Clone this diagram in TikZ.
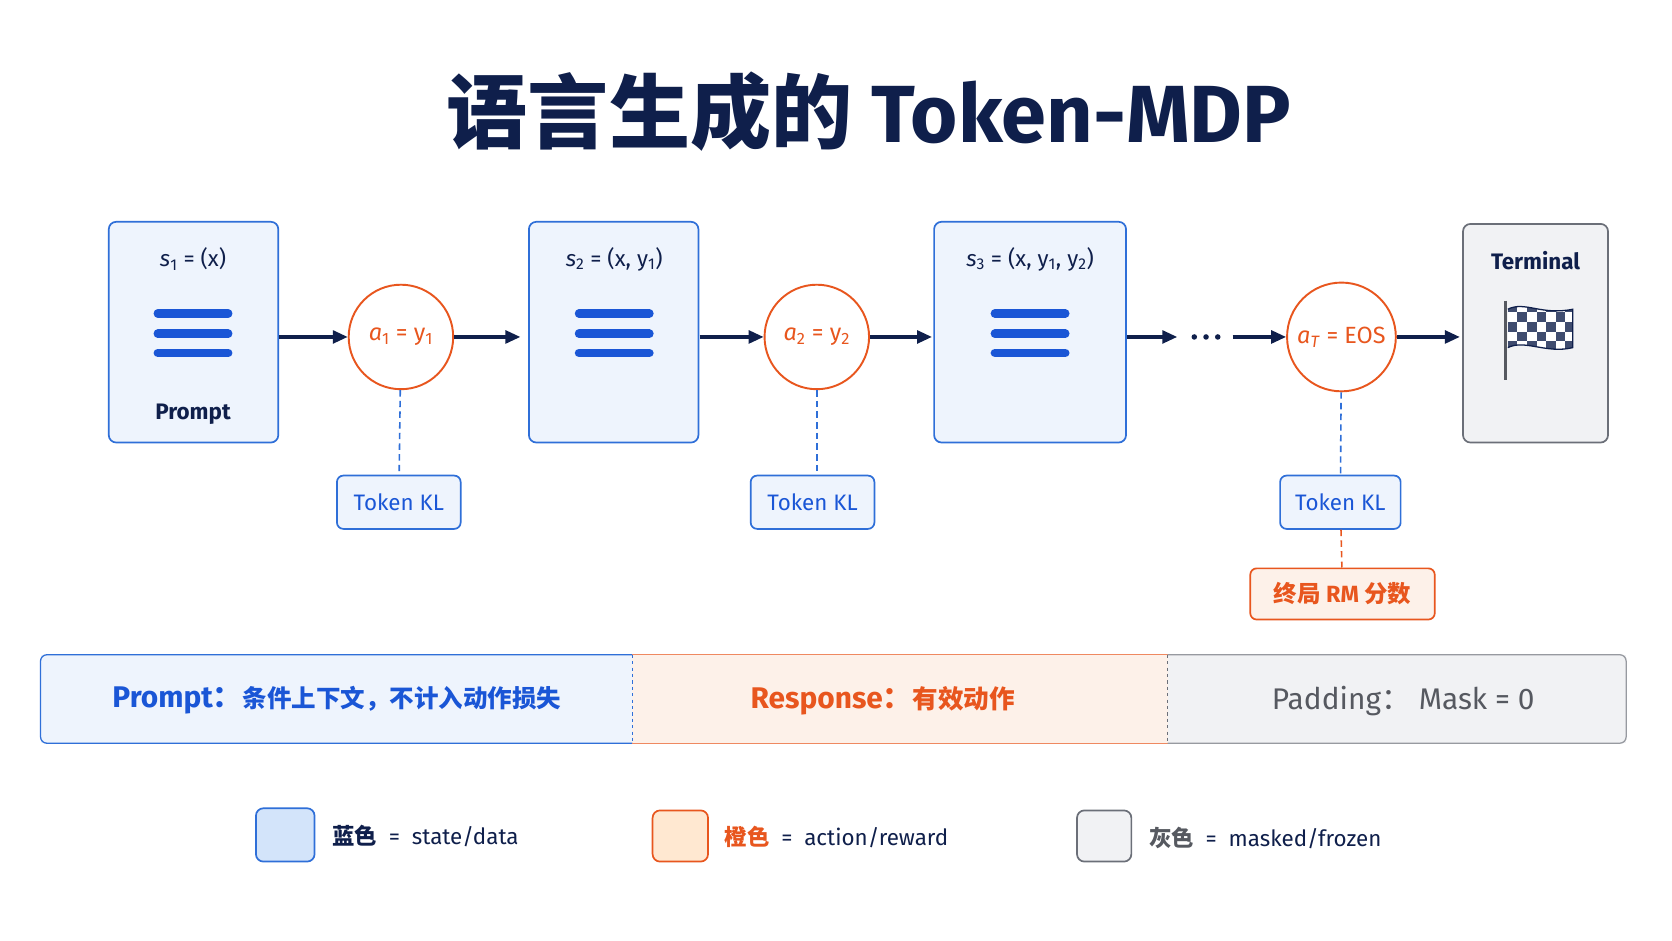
\documentclass[tikz,border=0pt]{standalone}
\usepackage{fontspec}
\setmainfont{Fira Sans}
\newfontfamily\cjk{Noto Sans CJK SC}
\usetikzlibrary{arrows.meta}
\definecolor{navy}{HTML}{0F1F4B}
\definecolor{bblue}{HTML}{2F6FD8}
\definecolor{bfill}{HTML}{EEF4FD}
\definecolor{lfill}{HTML}{D3E4FA}
\definecolor{iblue}{HTML}{1A56D6}
\definecolor{org}{HTML}{E8561E}
\definecolor{ofill}{HTML}{FDF1E9}
\definecolor{gr}{HTML}{6B6F78}
\definecolor{gfill}{HTML}{F1F2F4}
\tikzset{
 x=1pt,y=-1pt,
 st/.style={draw=bblue,line width=1.6pt,fill=bfill,rounded corners=7pt},
 act/.style={draw=org,line width=1.8pt,fill=white,circle,inner sep=0pt,text=org,font=\fontsize{22}{24}\selectfont},
 kl/.style={draw=bblue,line width=1.6pt,fill=bfill,rounded corners=6pt,minimum width=116pt,minimum height=50pt,text=iblue,font=\fontsize{21}{24}\selectfont},
 arr/.style={-{Triangle[length=14pt,width=12pt]},line width=3pt,draw=navy},
 dsh/.style={dash pattern=on 6pt off 4pt,line width=1.5pt},
 lbl/.style={font=\fontsize{21}{24}\selectfont,text=navy},
 bar/.style={line width=8pt,draw=iblue,line cap=round}
}
\newcommand{\ham}[2]{\draw[bar] (#1-33,#2-19)--(#1+33,#2-19); \draw[bar] (#1-33,#2)--(#1+33,#2); \draw[bar] (#1-33,#2+18)--(#1+33,#2+18);}
\begin{document}
\begin{tikzpicture}
\useasboundingbox (0,0) rectangle (1568,882);
\fill[white] (0,0) rectangle (1568,882);
\node[text=navy,font=\fontsize{76}{80}\selectfont\bfseries] (title) at (815,105) {{\cjk 语言生成的} Token-MDP};
% states
\draw[st] (102,208) rectangle (261,415);
\node[lbl] (s1t) at (181,243) {\textit{s}\textsubscript{1} = (x)};
\ham{181}{313}
\node[lbl,font=\fontsize{21}{24}\selectfont\bfseries] (p) at (181,388) {Prompt};
\draw[st] (496,208) rectangle (655,415);
\node[lbl] (s2t) at (576,243) {\textit{s}\textsubscript{2} = (x, y\textsubscript{1})};
\ham{576}{313}
\draw[st] (876,208) rectangle (1056,415);
\node[lbl] (s3t) at (966,243) {\textit{s}\textsubscript{3} = (x, y\textsubscript{1}, y\textsubscript{2})};
\ham{966}{313}
\draw[draw=gr,line width=1.6pt,fill=gfill,rounded corners=7pt] (1372,210) rectangle (1508,415);
\node[lbl,font=\fontsize{21}{24}\selectfont\bfseries] (term) at (1440,244) {Terminal};
% flag
\draw[line width=3pt,draw=gr!80!black] (1412,282)--(1412,356);
\begin{scope}
\clip (1414,290) .. controls (1430,282) and (1445,296) .. (1475,290) -- (1475,326) .. controls (1450,332) and (1430,318) .. (1414,326) -- cycle;
\fill[white] (1414,280) rectangle (1476,335);
\foreach \i in {0,...,6}{\foreach \j in {0,...,4}{
 \pgfmathtruncatemacro{\k}{mod(\i+\j,2)}
 \ifnum\k=0 \fill[navy!80] (1414+\i*9,284+\j*9) rectangle ++(9,9);\fi}}
\end{scope}
\draw[line width=1.2pt,draw=navy] (1414,290) .. controls (1430,282) and (1445,296) .. (1475,290) -- (1475,326) .. controls (1450,332) and (1430,318) .. (1414,326);
% actions
\node[act,minimum size=98pt] (a1) at (376,316) {\textit{a}\textsubscript{1} = y\textsubscript{1}};
\node[act,minimum size=98pt] (a2) at (766,316) {\textit{a}\textsubscript{2} = y\textsubscript{2}};
\node[act,minimum size=102pt] (aT) at (1258,316) {\textit{a}\textsubscript{\textit{T}} = EOS};
\coordinate (s1r) at (262,316); \coordinate (s2l) at (488,316); \coordinate (s2r) at (656,316);
\coordinate (s3l) at (874,316); \coordinate (s3r) at (1057,316); \coordinate (d1) at (1104,316);
\coordinate (d2) at (1156,316); \coordinate (tl) at (1369,316);
\draw[arr] (s1r)--(a1); \draw[arr] (a1)--(s2l); \draw[arr] (s2r)--(a2); \draw[arr] (a2)--(s3l);
\draw[arr] (s3r)--(d1); \draw[arr] (d2)--(aT); \draw[arr] (aT)--(tl);
\foreach \xx in {1120,1131,1142}{\fill[navy] (\xx,316) circle (2.6pt);}
\coordinate (dots) at (1131,316);
% KL
\node[kl] (k1) at (374,471) {Token KL};
\node[kl] (k2) at (762,471) {Token KL};
\node[kl,minimum width=113pt] (k3) at (1257,471) {Token KL};
\draw[dsh,bblue] (a1)--(k1); \draw[dsh,bblue] (a2.south)--(a2.south|-k2.north); \draw[dsh,bblue] (aT)--(k3);
\node[draw=org,line width=1.6pt,fill=ofill,rounded corners=6pt,minimum width=173pt,minimum height=48pt,text=org,font=\fontsize{22}{24}\selectfont\bfseries] (rm) at (1259,557) {{\cjk\bfseries 终局} RM {\cjk\bfseries 分数}};
\draw[dsh,org] (k3)--(rm);
% bar
\fill[bfill] (38,614) rectangle (593,697);
\fill[ofill] (593,614) rectangle (1095,697);
\fill[gfill] (1095,614) rectangle (1525,697);
\draw[bblue,line width=1.2pt] (593,614)--(44,614) arc(-90:-180:6)--(38,691) arc(180:90:6)--(593,697);
\draw[org!70,line width=1.2pt] (593,614)--(1095,614) (593,697)--(1095,697);
\draw[gr!70,line width=1.2pt] (1095,614)--(1519,614) arc(-90:0:6)--(1525,691) arc(0:90:6)--(1095,697);
\draw[dashed,bblue,line width=1pt] (593,614)--(593,697);
\draw[dashed,gr,line width=1pt] (1095,614)--(1095,697);
\node[text=iblue,font=\fontsize{28}{30}\selectfont\bfseries] (b1) at (316,657) {Prompt{\cjk ：\fontsize{23}{26}\selectfont 条件上下文，不计入动作损失}};
\node[text=org,font=\fontsize{28}{30}\selectfont\bfseries] (b2) at (828,657) {Response{\cjk ：\fontsize{24}{26}\selectfont 有效动作}};
\node[text=gr!80!black,font=\fontsize{28}{30}\selectfont] (b3) at (1316,657) {Padding{\cjk ：}\ Mask = 0};
% legend
\draw[st,fill=lfill] (240,758) rectangle (295,808);
\node[lbl,anchor=west] (l1) at (308,784) {{\cjk\bfseries 蓝色} \ = \ state/data};
\draw[draw=org,line width=1.6pt,fill=orange!18,rounded corners=7pt] (612,760) rectangle (664,808);
\node[lbl,anchor=west] (l2) at (676,785) {\textcolor{org}{\cjk\bfseries 橙色} \ = \ action/reward};
\draw[draw=gr,line width=1.6pt,fill=gfill,rounded corners=7pt] (1010,760) rectangle (1061,808);
\node[lbl,anchor=west] (l3) at (1074,786) {\textcolor{gr!80!black}{\cjk\bfseries 灰色} \ = \ masked/frozen};
\end{tikzpicture}
\end{document}
